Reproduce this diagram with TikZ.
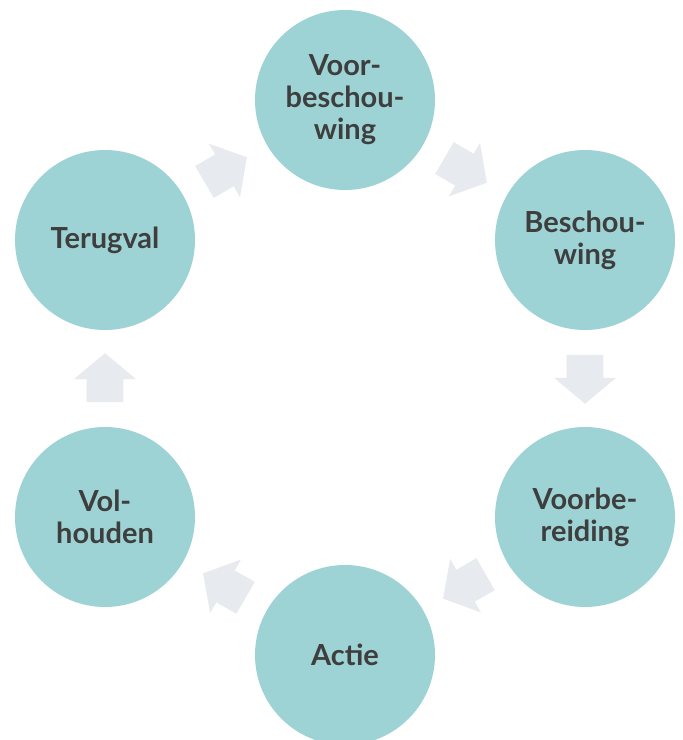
\documentclass[tikz,border=0pt]{standalone}
\usepackage{fontspec}
\setmainfont{Lato}
\usepackage{tikz}
\usetikzlibrary{shapes.arrows, positioning}
\definecolor{fasekleur}{HTML}{9DD3D4}
\definecolor{pijlkleur}{HTML}{E7EAEF}
\definecolor{tekstkleur}{HTML}{3E3E3E}
\tikzstyle{fase} = [circle, fill=fasekleur, minimum size=90pt, inner sep=0pt,
     text width=75pt, align=center, text=tekstkleur,
     font=\fontsize{14.5}{16}\selectfont\bfseries]
\tikzstyle{pijl} = [single arrow, fill=pijlkleur, inner xsep=0pt, inner ysep=9pt,
     minimum height=24.5pt, single arrow head extend=6.25pt,
     single arrow tip angle=100, sloped, allow upside down, pos=0.475]

\begin{document}
\begin{tikzpicture}[x=0.5pt, y=-0.5pt]
     \clip (0,0) rectangle (682,740);
     \fill [white] (0,0) rectangle (682,740);
     % Fasen
     \node [fase] (voorbesch) at (345,100) {Voor-\\beschou-\\wing};
     \node [fase] (besch) at (585,240) {Beschou-\\wing};
     \node [fase] (voorber) at (585,517) {Voorbe-\\reiding};
     \node [fase] (actie) at (345,655) {Actie};
     \node [fase] (volh) at (105,517) {Vol-\\houden};
     \node [fase] (terug) at (105,240) {Terugval};

     % Pijlen
     \path (voorbesch.center) -- node [pijl] (p1) {} (besch.center);
     \path (besch.center) -- node [pijl] (p2) {} (voorber.center);
     \path (voorber.center) -- node [pijl] (p3) {} (actie.center);
     \path (actie.center) -- node [pijl] (p4) {} (volh.center);
     \path (volh.center) -- node [pijl] (p5) {} (terug.center);
     \path (terug.center) -- node [pijl] (p6) {} (voorbesch.center);
\end{tikzpicture}
\end{document}
